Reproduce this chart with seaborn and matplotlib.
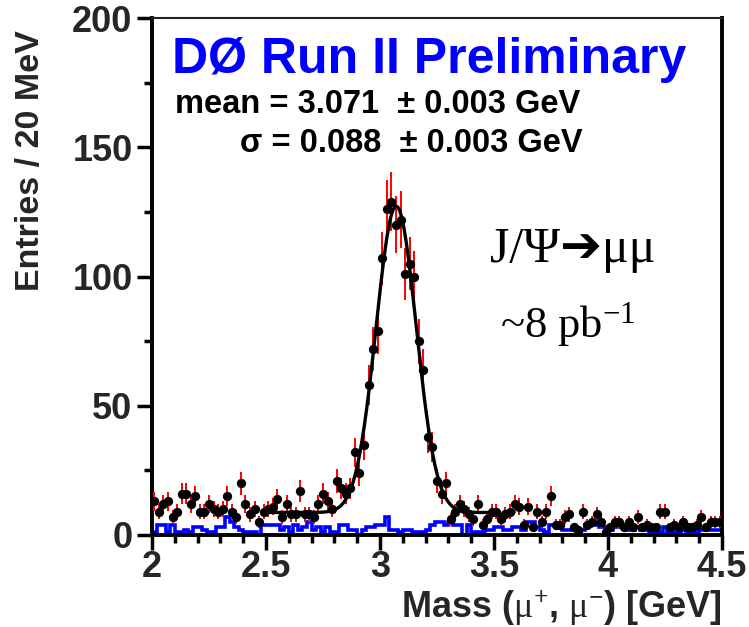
import numpy as np
import pandas as pd
import matplotlib
matplotlib.use("Agg")
import matplotlib.pyplot as plt
import seaborn as sns

# ---- data ----
bin_lo, bin_hi, bin_w = 2.0, 4.5, 0.02
counts = [13, 9, 12, 13, 7, 9, 16, 16, 12, 15,
          9, 9, 12, 10, 9, 10, 15, 9, 7, 20,
          12, 8, 10, 5, 9, 10, 11, 14, 7, 12,
          8, 8, 17, 8, 8, 7, 12, 16, 13, 10,
          21, 18, 16, 18, 32, 24, 35, 58, 72, 79,
          107, 126, 129, 120, 122, 101, 105, 100, 75, 64,
          38, 34, 21, 16, 20, 6, 9, 12, 10, 8,
          6, 12, 4, 6, 9, 9, 6, 8, 9, 12,
          11, 4, 11, 3, 9, 5, 9, 15, 4, 4,
          7, 8, 3, 2, 9, 4, 5, 8, 5, 1,
          3, 5, 5, 3, 5, 3, 7, 3, 4, 3,
          3, 9, 9, 3, 4, 3, 5, 3, 3, 4,
          7, 3, 5, 5, 5]
background = [1, 4, 4, 1, 4, 1, 1, 2, 1, 3,
              3, 2, 1, 1, 3, 3, 7, 5, 3, 2,
              1, 1, 1, 0, 4, 4, 4, 4, 2, 3,
              1, 4, 2, 3, 5, 2, 3, 1, 3, 1,
              1, 4, 4, 2, 2, 0, 2, 3, 3, 4,
              4, 7, 2, 2, 1, 2, 2, 1, 1, 1,
              2, 4, 5, 5, 4, 5, 4, 4, 0, 4,
              1, 1, 1, 2, 2, 3, 3, 2, 2, 3,
              3, 2, 5, 5, 3, 2, 1, 4, 4, 3,
              2, 2, 2, 1, 2, 4, 4, 4, 3, 3,
              2, 3, 3, 3, 2, 2, 3, 2, 2, 1,
              1, 1, 3, 1, 1, 1, 2, 1, 1, 1,
              2, 2, 2, 2, 2]
# fit parameters (Gaussian + flat background, fit range 2.5-3.5 GeV)
fit_mean, fit_sigma, fit_amp, fit_bg = 3.071, 0.088, 118.5, 8.7
fit_range = (2.5, 3.5)

xticks = [2, 2.5, 3, 3.5, 4, 4.5]
xticklabels = ["2", "2.5", "3", "3.5", "4", "4.5"]
yticks = [0, 50, 100, 150, 200]

# ---- derived tables ----
edges = np.round(np.arange(bin_lo, bin_hi + bin_w / 2, bin_w), 4)
centers = (edges[:-1] + edges[1:]) / 2
df = pd.DataFrame({"mass": centers, "n": counts, "bkg": background})
df["err"] = np.sqrt(df["n"])
xf = np.linspace(fit_range[0], fit_range[1], 400)
fit_df = pd.DataFrame({"mass": xf,
                       "y": fit_bg + fit_amp * np.exp(-0.5 * ((xf - fit_mean) / fit_sigma) ** 2)})

sns.set_theme(style="white")
plt.rcParams["font.family"] = ["Liberation Sans", "DejaVu Sans"]
plt.rcParams["mathtext.fontset"] = "custom"
plt.rcParams["mathtext.rm"] = "Liberation Serif"
plt.rcParams["mathtext.it"] = "Liberation Serif:italic"
plt.rcParams["mathtext.bf"] = "Liberation Serif:bold"

W, H = 749, 627
fig = plt.figure(figsize=(W / 100, H / 100), dpi=100)
ax = fig.add_axes([152 / W, 1 - 535 / H, (722 - 152) / W, (535 - 18) / H])

# background histogram (blue step)
ax.stairs(df["bkg"].to_numpy(), edges, color="#0000ff", linewidth=2.6, zorder=2)

# data points with error bars
ax.errorbar(df["mass"], df["n"], yerr=df["err"], fmt="none", ecolor="#ff0000",
            elinewidth=1.4, capsize=0, zorder=3)
ax.errorbar(df["mass"], df["n"], xerr=bin_w / 2, fmt="none", ecolor="black",
            elinewidth=2.2, capsize=0, zorder=4)
sns.scatterplot(data=df, x="mass", y="n", color="black", s=45, marker="o",
                edgecolor="black", linewidth=0, ax=ax, zorder=5)

# fit
sns.lineplot(data=fit_df, x="mass", y="y", color="black", linewidth=2.4, ax=ax, zorder=6)

ax.set_xlim(bin_lo, bin_hi)
ax.set_ylim(0, 200)
ax.set_xticks(xticks)
ax.set_xticklabels(xticklabels)
ax.set_yticks(yticks)
ax.set_xticks(np.arange(2.0, 4.501, 0.1), minor=True)
ax.set_yticks(np.arange(0, 201, 25), minor=True)
ax.tick_params(axis="both", which="major", direction="out", length=11, width=2.5,
               labelsize=26, color="black", pad=3)
ax.tick_params(axis="x", which="major", pad=0)
ax.tick_params(axis="both", which="minor", direction="out", length=6, width=2.5,
               color="black")
ax.tick_params(axis="both", which="both", bottom=True, left=True, top=False, right=False)
for lab in ax.get_xticklabels() + ax.get_yticklabels():
    lab.set_fontweight("bold")
for side in ["left", "bottom", "right"]:
    ax.spines[side].set_linewidth(2.8)
    ax.spines[side].set_color("black")
ax.spines["top"].set_linewidth(1.5)
ax.spines["top"].set_color("#222222")

ax.set_xlabel(r"Mass ($\mathrm{\mu}^{\mathbf{+}}$, $\mathrm{\mu}^{\mathbf{-}}$) [GeV]",
              fontsize=26, fontweight="bold", ha="right")
ax.xaxis.set_label_coords(1.0, -0.103, transform=ax.transAxes)
ax.set_ylabel("Entries / 20 MeV", fontsize=24.5, fontweight="bold", ha="right")
ax.yaxis.set_label_coords(-0.186, 1 - 12 / 517, transform=ax.transAxes)

# annotations
fig.text(172 / W, 1 - 73 / H, "DØ Run II Preliminary", color="#0000ff",
         fontsize=36, fontweight="bold", va="baseline", ha="left")
fig.text(175 / W, 1 - 113 / H, "mean = 3.071  ± 0.003 GeV", color="black",
         fontsize=23.5, fontweight="bold", va="baseline", ha="left")
fig.text(583 / W, 1 - 152 / H, "σ = 0.088  ± 0.003 GeV", color="black",
         fontsize=23.5, fontweight="bold", va="baseline", ha="right")
fig.text(490 / W, 1 - 262 / H, "J/Ψ➔μμ", color="black", fontsize=36,
         family=["Liberation Serif", "DejaVu Sans"], va="baseline", ha="left")
fig.text(500 / W, 1 - 337 / H, r"~8 pb$^{\mathrm{-1}}$", color="black", fontsize=32,
         family=["Liberation Serif", "DejaVu Sans"], va="baseline", ha="left")

fig.savefig("out.png", dpi=100, facecolor="white")
